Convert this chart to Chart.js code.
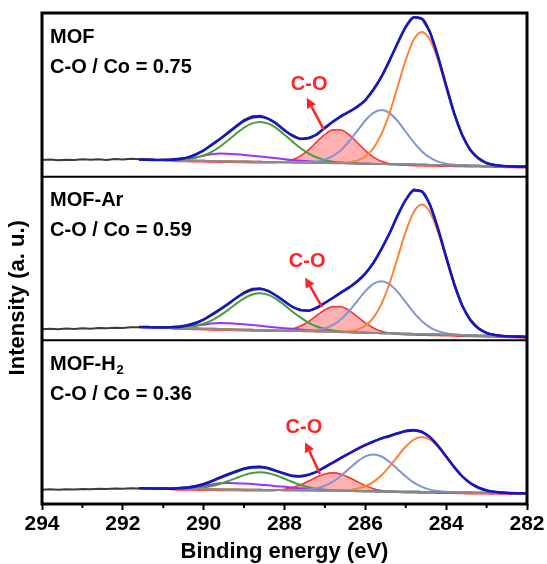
<!DOCTYPE html>
<html lang="en">
<head>
  <meta charset="UTF-8" />
  <title>C 1s XPS fits</title>
  <script src="https://cdn.jsdelivr.net/npm/chart.js"></script>
  <style>
    body { margin: 0; background: #fff; }
    canvas { display: block; }
  </style>
</head>
<body>
  <canvas id="xps" width="547" height="564"></canvas>

  <script>
    // binding energy grids (eV)
    const rawEnergy = [294.0, 293.8, 293.6, 293.4, 293.2, 293.0, 292.8, 292.6, 292.4, 292.2, 292.0, 291.8,
      291.6, 291.4, 291.2, 291.0, 290.8, 290.6, 290.4, 290.2, 290.0, 289.8, 289.6, 289.4, 289.2, 289.0,
      288.8, 288.6, 288.4, 288.2, 288.0, 287.8, 287.6, 287.4, 287.2, 287.0, 286.8, 286.6, 286.4, 286.2,
      286.0, 285.8, 285.6, 285.4, 285.2, 285.0, 284.8, 284.6, 284.4, 284.2, 284.0, 283.8, 283.6, 283.4,
      283.2, 283.0, 282.8, 282.6, 282.4, 282.2, 282.0];
    const fitEnergy = [291.6, 291.4, 291.2, 291.0, 290.8, 290.6, 290.4, 290.2, 290.0, 289.8, 289.6, 289.4,
      289.2, 289.0, 288.8, 288.6, 288.4, 288.2, 288.0, 287.8, 287.6, 287.4, 287.2, 287.0, 286.8, 286.6,
      286.4, 286.2, 286.0, 285.8, 285.6, 285.4, 285.2, 285.0, 284.8, 284.6, 284.4, 284.2, 284.0, 283.8,
      283.6, 283.4, 283.2, 283.0, 282.8, 282.6, 282.4, 282.2, 282.0];
    const xTicks = [294, 292, 290, 288, 286, 284, 282];

    // MOF
    const mofRaw = [16.6, 17.2, 16.4, 17.0, 16.8, 17.5, 16.9, 17.4, 16.7, 17.8, 17.2, 18.0, 17.4,
      17.3, 16.6, 17.2, 17.4, 18.2, 19.0, 22.6, 26.2, 32.3, 37.8, 44.5, 50.6, 56.8, 60.6, 61.0, 58.2,
      53.6, 46.1, 41.5, 37.6, 39.2, 42.0, 49.5, 55.0, 61.2, 64.8, 70.6, 76.4, 87.8, 100.0, 117.0, 133.6,
      150.6, 160.2, 158.0, 145.2, 120.6, 91.8, 63.8, 41.2, 26.2, 18.8, 13.4, 11.4, 10.9, 10.2, 10.0, 10.1];
    const mofEnvelope = [17.1, 16.9, 16.8, 16.7, 17.0, 17.6, 19.2, 22.0, 26.4, 31.7, 37.5, 43.7, 50.1,
      55.8, 59.4, 60.2, 57.9, 52.9, 46.6, 41.0, 38.0, 38.5, 42.5, 48.8, 55.2, 60.5, 65.1, 69.9, 76.8,
      87.0, 100.3, 116.3, 134.1, 150.0, 159.6, 158.3, 144.4, 119.9, 90.9, 63.2, 41.5, 26.7, 18.1, 13.7,
      11.7, 10.7, 10.3, 10.1, 10.0];
    const mofBackground = [17.1, 16.9, 16.8, 16.6, 16.5, 16.3, 16.2, 16.0, 15.9, 15.7, 15.6, 15.5, 15.3,
      15.2, 15.0, 14.9, 14.7, 14.6, 14.4, 14.3, 14.1, 14.0, 13.8, 13.7, 13.5, 13.4, 13.3, 13.1, 13.0,
      12.8, 12.7, 12.5, 12.4, 12.2, 12.1, 11.9, 11.8, 11.6, 11.5, 11.3, 11.2, 11.0, 10.9, 10.7, 10.6,
      10.4, 10.3, 10.1, 10.0];
    // peak heights above the background
    const mofCC = [0, 0, 0, 0, 0, 0, 0, 0, 0, 0, 0, 0, 0, 0, 0, 0, 0, 0, 0, 0,
      0, 0, 0, 0, 0.1, 0.3, 1.1, 3.0, 7.2, 15.7, 30.1, 51.3, 77.9, 104.8, 125.3, 133, 125.3, 104.8, 77.9, 51.3,
      30.1, 15.7, 7.2, 3.0, 1.1, 0.3, 0.1, 0, 0];
    const mofC285 = [0, 0, 0, 0, 0, 0, 0, 0, 0, 0, 0, 0, 0, 0, 0, 0, 0, 0, 0, 0,
      0.2, 0.6, 1.5, 3.5, 7.3, 13.4, 22.2, 32.8, 43.3, 51.1, 54, 51.1, 43.3, 32.8, 22.2, 13.4, 7.3, 3.5, 1.5, 0.6,
      0.2, 0, 0, 0, 0, 0, 0, 0, 0];
    const mofCO = [null, null, null, null, -1, -1, -1, -1, -1, -1, -1, -1, -1, -1, -1, -1, -0.8, -0.5, 0.5, 2.7,
      6.8, 13.1, 21.1, 28.6, 33.4, 33.4, 28.6, 21.1, 13.1, 6.8, 2.7, 0.5, -0.5, -0.8, -1, -1, -1, -1, -1, -1,
      -1, -1, -1, -1, -1, -1, -1, -1, -1];
    const mofOCO = [0, 0, 0, 0.1, 0.3, 0.7, 1.5, 2.9, 5.4, 9.2, 14.4, 20.8, 27.7, 34.0, 38.4, 40, 38.4, 34.0, 27.7, 20.8,
      14.4, 9.2, 5.4, 2.9, 1.5, 0.7, 0.3, 0.1, 0, 0, 0, 0, 0, 0, 0, 0, 0, 0, 0, 0,
      0, 0, 0, 0, 0, 0, 0, 0, 0];
    const mofSat = [0, 0, 0, 0, 0.2, 0.6, 1.5, 3.1, 5.1, 6.8, 7.5, 7.4, 7.1, 6.6, 6.0, 5.3, 4.6, 3.8, 3.1, 2.4,
      1.9, 1.4, 1.0, 0.7, 0.5, 0.3, 0.2, 0.1, 0, 0, 0, 0, 0, 0, 0, 0, 0, 0, 0, 0,
      0, 0, 0, 0, 0, 0, 0, 0, 0];

    // MOF-Ar
    const arRaw = [11.0, 11.6, 11.2, 11.8, 11.4, 12.0, 11.7, 12.3, 12.0, 12.6, 12.4, 13.1, 13.2,
      13.6, 13.1, 13.4, 13.5, 14.2, 15.3, 17.8, 21.0, 26.2, 31.0, 36.8, 42.4, 48.2, 51.6, 52.3, 49.8,
      44.4, 39.4, 33.2, 30.6, 29.4, 33.0, 37.8, 42.5, 48.4, 52.8, 59.6, 67.2, 77.4, 92.0, 107.0, 125.8,
      141.0, 151.4, 149.6, 136.2, 111.0, 84.0, 56.8, 34.4, 20.6, 12.2, 7.2, 5.6, 4.5, 3.8, 3.8, 3.4];
    const arEnvelope = [13.4, 13.2, 13.0, 12.9, 13.1, 13.5, 14.8, 17.2, 20.7, 25.4, 30.7, 36.2, 42.2,
      47.4, 50.8, 51.5, 49.3, 44.7, 38.9, 33.5, 30.2, 29.8, 32.6, 37.4, 42.7, 47.8, 53.0, 58.9, 66.9,
      77.7, 91.4, 107.5, 125.1, 140.7, 150.3, 149.1, 135.5, 111.6, 83.3, 56.2, 34.7, 20.2, 11.8, 7.4,
      5.4, 4.4, 3.9, 3.7, 3.5];
    const arBackground = [13.4, 13.2, 13.0, 12.8, 12.6, 12.4, 12.2, 12.0, 11.7, 11.5, 11.3, 11.1, 10.9,
      10.7, 10.5, 10.3, 10.1, 9.9, 9.7, 9.5, 9.3, 9.1, 8.9, 8.7, 8.4, 8.2, 8.0, 7.8, 7.6, 7.4, 7.2, 7.0,
      6.8, 6.6, 6.4, 6.2, 6.0, 5.8, 5.6, 5.4, 5.1, 4.9, 4.7, 4.5, 4.3, 4.1, 3.9, 3.7, 3.5];
    const arCC = [0, 0, 0, 0, 0, 0, 0, 0, 0, 0, 0, 0, 0, 0, 0, 0, 0, 0, 0, 0,
      0, 0, 0, 0, 0.1, 0.3, 1.1, 2.9, 7.1, 15.3, 29.4, 50.2, 76.2, 102.4, 122.5, 130, 122.5, 102.4, 76.2, 50.2,
      29.4, 15.3, 7.1, 2.9, 1.1, 0.3, 0.1, 0, 0];
    const arC285 = [0, 0, 0, 0, 0, 0, 0, 0, 0, 0, 0, 0, 0, 0, 0, 0, 0, 0, 0, 0,
      0.2, 0.6, 1.5, 3.4, 7.0, 12.9, 21.4, 31.6, 41.7, 49.2, 52, 49.2, 41.7, 31.6, 21.4, 12.9, 7.0, 3.4, 1.5, 0.6,
      0.2, 0, 0, 0, 0, 0, 0, 0, 0];
    const arCO = [null, null, null, null, -1, -1, -1, -1, -1, -1, -1, -1, -1, -1, -1, -1, -0.9, -0.6, 0.2, 1.9,
      5.0, 9.9, 16.0, 21.9, 25.5, 25.5, 21.9, 16.0, 9.9, 5.0, 1.9, 0.2, -0.6, -0.9, -1, -1, -1, -1, -1, -1,
      -1, -1, -1, -1, -1, -1, -1, -1, -1];
    const arOCO = [0, 0, 0, 0.1, 0.3, 0.6, 1.4, 2.7, 5.0, 8.5, 13.4, 19.2, 25.6, 31.4, 35.5, 37, 35.5, 31.4, 25.6, 19.2,
      13.4, 8.5, 5.0, 2.7, 1.4, 0.6, 0.3, 0.1, 0, 0, 0, 0, 0, 0, 0, 0, 0, 0, 0, 0,
      0, 0, 0, 0, 0, 0, 0, 0, 0];
    const arSat = [0, 0, 0, 0, 0.2, 0.5, 1.2, 2.5, 4.0, 5.4, 6.0, 5.9, 5.7, 5.3, 4.8, 4.2, 3.6, 3.0, 2.5, 2.0,
      1.5, 1.1, 0.8, 0.6, 0.4, 0.3, 0.2, 0.1, 0, 0, 0, 0, 0, 0, 0, 0, 0, 0, 0, 0,
      0, 0, 0, 0, 0, 0, 0, 0, 0];

    // MOF-H2
    const h2Raw = [14.2, 14.7, 14.4, 14.9, 14.6, 15.0, 14.8, 15.3, 15.0, 15.5, 15.3, 15.8, 15.6,
      16.0, 15.4, 15.9, 15.6, 16.4, 16.8, 18.2, 20.4, 23.4, 26.8, 30.2, 33.0, 35.9, 37.4, 37.5, 36.0,
      33.2, 30.8, 28.0, 28.2, 29.6, 32.2, 37.4, 41.8, 46.6, 50.4, 55.6, 59.4, 62.4, 66.2, 68.6, 71.2,
      73.6, 74.4, 72.8, 67.2, 58.0, 47.8, 36.8, 27.4, 20.6, 16.6, 13.8, 12.0, 11.5, 10.8, 10.9, 10.6];
    const h2Envelope = [15.8, 15.6, 15.5, 15.4, 15.3, 15.8, 16.4, 17.6, 19.8, 22.7, 26.1, 29.3, 32.3,
      35.0, 36.7, 37.0, 35.7, 33.1, 30.3, 28.2, 27.7, 29.3, 32.5, 36.8, 41.5, 46.1, 50.7, 55.0, 59.0,
      62.6, 65.5, 68.0, 70.6, 72.9, 73.8, 72.1, 66.8, 58.3, 47.6, 37.0, 27.7, 20.9, 16.3, 13.6, 12.2,
      11.4, 11.0, 10.8, 10.7];
    const h2Background = [15.8, 15.6, 15.5, 15.4, 15.3, 15.2, 15.1, 15.0, 14.9, 14.8, 14.7, 14.6, 14.5,
      14.4, 14.3, 14.2, 14.1, 14.0, 13.9, 13.8, 13.6, 13.5, 13.4, 13.3, 13.2, 13.1, 13.0, 12.9, 12.8,
      12.7, 12.6, 12.5, 12.4, 12.3, 12.2, 12.1, 12.0, 11.9, 11.8, 11.7, 11.5, 11.4, 11.3, 11.2, 11.1,
      11.0, 10.9, 10.8, 10.7];
    const h2CC = [0, 0, 0, 0, 0, 0, 0, 0, 0, 0, 0, 0, 0, 0, 0, 0, 0, 0, 0, 0,
      0, 0, 0, 0, 0.1, 0.4, 1.1, 2.4, 5.0, 9.5, 16.2, 25.2, 35.4, 45.3, 52.4, 55, 52.4, 45.3, 35.4, 25.2,
      16.2, 9.5, 5.0, 2.4, 1.1, 0.4, 0.1, 0, 0];
    const h2C285 = [0, 0, 0, 0, 0, 0, 0, 0, 0, 0, 0, 0, 0, 0, 0, 0, 0, 0, 0, 0.1,
      0.4, 1.1, 2.4, 5.0, 9.2, 15.2, 22.5, 29.6, 35.0, 37, 35.0, 29.6, 22.5, 15.2, 9.2, 5.0, 2.4, 1.1, 0.4, 0.1,
      0, 0, 0, 0, 0, 0, 0, 0, 0];
    const h2CO = [null, null, null, null, -1, -1, -1, -1, -1, -1, -1, -1, -1, -1, -1, -0.9, -0.7, -0.3, 0.8, 2.6,
      5.6, 9.5, 13.6, 16.8, 18, 16.8, 13.6, 9.5, 5.6, 2.6, 0.8, -0.3, -0.7, -0.9, -1, -1, -1, -1, -1, -1,
      -1, -1, -1, -1, -1, -1, -1, -1, -1];
    const h2OCO = [0, 0, 0, 0, 0, 0.2, 0.4, 0.8, 1.7, 3.2, 5.4, 8.2, 11.4, 14.5, 16.7, 17.5, 16.7, 14.5, 11.4, 8.2,
      5.4, 3.2, 1.7, 0.8, 0.4, 0.2, 0, 0, 0, 0, 0, 0, 0, 0, 0, 0, 0, 0, 0, 0,
      0, 0, 0, 0, 0, 0, 0, 0, 0];
    const h2Sat = [0, 0, 0, 0, 0, 0.4, 0.9, 1.8, 3.2, 4.7, 6.0, 6.5, 6.4, 6.1, 5.7, 5.2, 4.6, 3.9, 3.3, 2.7,
      2.1, 1.6, 1.2, 0.9, 0.6, 0.4, 0.3, 0.2, 0, 0, 0, 0, 0, 0, 0, 0, 0, 0, 0, 0,
      0, 0, 0, 0, 0, 0, 0, 0, 0];

    const FONT = "'Liberation Sans', Arial, Helvetica, sans-serif";
    const colors = {
      envelope: '#1616c6', raw: '#3c3c3c', background: '#8a8a8a',
      cc: '#ff8232', c285: '#8195d4', co: '#ff3030', coFill: 'rgba(255, 70, 70, 0.42)',
      oco: '#4c9a3a', sat: '#9a32ff', label: '#ff2424'
    };

    const panels = [
      { axis: 'yTop', raw: mofRaw, envelope: mofEnvelope, background: mofBackground, cc: mofCC, c285: mofC285, co: mofCO, oco: mofOCO, sat: mofSat },
      { axis: 'yMid', raw: arRaw, envelope: arEnvelope, background: arBackground, cc: arCC, c285: arC285, co: arCO, oco: arOCO, sat: arSat },
      { axis: 'yBot', raw: h2Raw, envelope: h2Envelope, background: h2Background, cc: h2CC, c285: h2C285, co: h2CO, oco: h2OCO, sat: h2Sat }
    ];

    // text notes, placed in data coordinates (energy, intensity) of each panel
    const notes = [
      { axis: 'yTop', name: 'MOF', sub: '', ratio: 'C-O / Co = 0.75', label: [287.39, 92], from: [287.02, 46.7], to: [287.45, 79] },
      { axis: 'yMid', name: 'MOF-Ar', sub: '', ratio: 'C-O / Co = 0.59', label: [287.44, 79.5], from: [287.07, 33.2], to: [287.49, 63] },
      { axis: 'yBot', name: 'MOF-H', sub: '2', ratio: 'C-O / Co = 0.36', label: [287.52, 77], from: [287.12, 30], to: [287.49, 62] }
    ];

    function toPoints(xs, ys, base) {
      return xs.map(function (x, i) {
        const v = ys[i];
        return { x: x, y: v === null ? null : (base ? base[i] + v : v) };
      });
    }

    function curve(data, color, width, axis, extra) {
      return Object.assign({
        data: data, yAxisID: axis, borderColor: color, borderWidth: width,
        pointRadius: 0, fill: false, cubicInterpolationMode: 'monotone'
      }, extra || {});
    }

    const datasets = [];
    panels.forEach(function (p) {
      const bgIndex = datasets.length + 2;
      datasets.push(
        curve(toPoints(fitEnergy, p.envelope), colors.envelope, 2.6, p.axis),
        curve(toPoints(rawEnergy, p.raw), colors.raw, 2, p.axis, { cubicInterpolationMode: 'default', tension: 0 }),
        curve(toPoints(fitEnergy, p.background), colors.background, 2, p.axis),
        curve(toPoints(fitEnergy, p.cc, p.background), colors.cc, 2, p.axis),
        curve(toPoints(fitEnergy, p.c285, p.background), colors.c285, 2, p.axis),
        curve(toPoints(fitEnergy, p.oco, p.background), colors.oco, 2, p.axis),
        curve(toPoints(fitEnergy, p.sat, p.background), colors.sat, 2, p.axis),
        curve(toPoints(fitEnergy, p.co, p.background), colors.co, 1.6, p.axis,
          { fill: { target: bgIndex, above: colors.coFill, below: colors.coFill } })
      );
    });

    function panelAxis() {
      return { type: 'linear', position: 'right', stack: 'panels', stackWeight: 1, min: 0, max: 164, display: false };
    }

    function drawArrow(ctx, x1, y1, x2, y2) {
      const ang = Math.atan2(y2 - y1, x2 - x1);
      const head = 10, half = 5;
      const bx = x2 - head * Math.cos(ang), by = y2 - head * Math.sin(ang);
      ctx.beginPath();
      ctx.moveTo(x1, y1);
      ctx.lineTo(bx, by);
      ctx.stroke();
      ctx.beginPath();
      ctx.moveTo(x2, y2);
      ctx.lineTo(bx + half * Math.sin(ang), by - half * Math.cos(ang));
      ctx.lineTo(bx - half * Math.sin(ang), by + half * Math.cos(ang));
      ctx.closePath();
      ctx.fill();
    }

    const framePlugin = {
      id: 'frame',
      afterDatasetsDraw(chart) {
        const { ctx, chartArea: a, scales } = chart;
        ctx.save();
        ctx.strokeStyle = '#000';
        ctx.lineWidth = 2;
        ['yTop', 'yMid'].forEach(function (id) {
          const y = scales[id].bottom;
          ctx.beginPath();
          ctx.moveTo(a.left, y);
          ctx.lineTo(a.right, y);
          ctx.stroke();
        });
        ctx.lineWidth = 3;
        ctx.strokeRect(a.left, a.top, a.right - a.left, a.bottom - a.top);
        // minor ticks on odd energies
        ctx.lineWidth = 2;
        for (let v = 283; v < 294; v += 2) {
          const x = scales.x.getPixelForValue(v);
          ctx.beginPath();
          ctx.moveTo(x, a.bottom);
          ctx.lineTo(x, a.bottom + 4);
          ctx.stroke();
        }
        ctx.restore();
      },
      afterDraw(chart) {
        const { ctx, chartArea: a, scales } = chart;
        const xs = scales.x;
        ctx.save();
        ctx.textBaseline = 'middle';
        notes.forEach(function (n) {
          const ys = scales[n.axis];
          const left = xs.getPixelForValue(293.8);
          const top = ys.top;
          ctx.fillStyle = '#000';
          ctx.textAlign = 'left';
          ctx.font = 'bold 20px ' + FONT;
          ctx.fillText(n.name, left, top + 24);
          if (n.sub) {
            const w = ctx.measureText(n.name).width;
            ctx.font = 'bold 13px ' + FONT;
            ctx.fillText(n.sub, left + w + 1, top + 30);
          }
          ctx.font = 'bold 20px ' + FONT;
          ctx.fillText(n.ratio, left, top + 54);

          ctx.fillStyle = colors.label;
          ctx.strokeStyle = colors.label;
          ctx.lineWidth = 2.5;
          ctx.textAlign = 'center';
          ctx.fillText('C-O', xs.getPixelForValue(n.label[0]), ys.getPixelForValue(n.label[1]));
          drawArrow(ctx, xs.getPixelForValue(n.from[0]), ys.getPixelForValue(n.from[1]),
            xs.getPixelForValue(n.to[0]), ys.getPixelForValue(n.to[1]));
        });
        // y title
        ctx.fillStyle = '#000';
        ctx.font = 'bold 22px ' + FONT;
        ctx.textAlign = 'center';
        ctx.translate(18, a.top + (a.bottom - a.top) * 0.58);
        ctx.rotate(-Math.PI / 2);
        ctx.fillText('Intensity (a. u.)', 0, 0);
        ctx.restore();
      }
    };

    new Chart(document.getElementById('xps').getContext('2d'), {
      type: 'line',
      data: { datasets: datasets },
      options: {
        responsive: false,
        animation: false,
        devicePixelRatio: 1,
        events: [],
        layout: { padding: { left: 42, right: 20, top: 13, bottom: 0 } },
        plugins: { legend: { display: false }, tooltip: { enabled: false } },
        scales: {
          x: {
            type: 'linear', min: 282, max: 294, reverse: true,
            afterBuildTicks: function (s) { s.ticks = xTicks.map(function (v) { return { value: v }; }); },
            ticks: { color: '#000', padding: 2, font: { family: FONT, size: 21, weight: 'bold' } },
            grid: { drawOnChartArea: false, drawTicks: true, tickLength: 6, tickWidth: 2, tickColor: '#000' },
            border: { display: false },
            title: {
              display: true, text: 'Binding energy (eV)', color: '#000',
              padding: { top: 0, bottom: 1 }, font: { family: FONT, size: 22, weight: 'bold', lineHeight: 1 }
            },
            afterFit: function (s) { s.height = 60; }
          },
          yTop: panelAxis(),
          yMid: panelAxis(),
          yBot: panelAxis()
        }
      },
      plugins: [framePlugin]
    });
  </script>
</body>
</html>
